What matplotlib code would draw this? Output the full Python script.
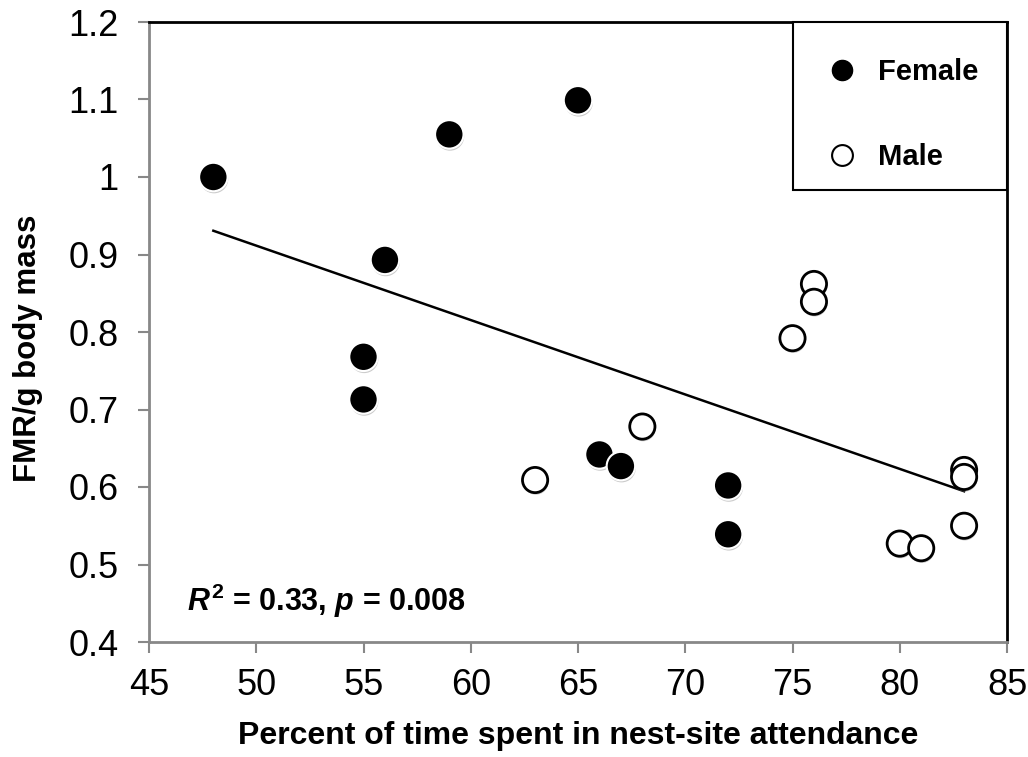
import numpy as np
import matplotlib
matplotlib.use("Agg")
import matplotlib.pyplot as plt
import matplotlib.patheffects as pe
from matplotlib.lines import Line2D
from matplotlib.patches import Rectangle

plt.rcParams['font.family'] = ['Liberation Sans', 'DejaVu Sans']
plt.rcParams['mathtext.fontset'] = 'custom'
plt.rcParams['mathtext.it'] = 'Liberation Sans:italic:bold'
plt.rcParams['mathtext.rm'] = 'Liberation Sans:bold'
plt.rcParams['mathtext.bf'] = 'Liberation Sans:bold'

female_x = [48, 55, 55, 56, 59, 65, 66, 67, 72, 72]
female_y = [1.0, 0.768, 0.713, 0.893, 1.055, 1.099, 0.642, 0.627, 0.602, 0.539]
male_x = [63, 68, 75, 76, 76, 80, 81, 83, 83, 83]
male_y = [0.609, 0.678, 0.792, 0.862, 0.839, 0.527, 0.521, 0.622, 0.613, 0.550]

x_ticks = [45, 50, 55, 60, 65, 70, 75, 80, 85]
y_ticks = [0.4, 0.5, 0.6, 0.7, 0.8, 0.9, 1.0, 1.1, 1.2]
y_tick_labels = ["0.4", "0.5", "0.6", "0.7", "0.8", "0.9", "1", "1.1", "1.2"]

fig = plt.figure(figsize=(10.28, 7.57), dpi=100)
ax = fig.add_axes([149/1028, 1 - 642/757, (1007-149)/1028, (642-22)/757])

all_x = np.array(female_x + male_x, dtype=float)
all_y = np.array(female_y + male_y, dtype=float)
slope, intercept = np.polyfit(all_x, all_y, 1)
xs = np.array([all_x.min(), all_x.max()])
ax.plot(xs, slope * xs + intercept, color='black', lw=1.8, zorder=2)

shadow = [pe.SimplePatchShadow(offset=(0.5, -1.5), shadow_rgbFace='#999999', alpha=0.5), pe.Normal()]
ax.scatter(female_x, female_y, s=420, c='black', edgecolors='white', linewidths=1.5, zorder=3,
           path_effects=shadow)
ax.scatter(male_x, male_y, s=330, c='white', edgecolors='black', linewidths=2.0, zorder=3,
           path_effects=shadow)

ax.set_xlim(45, 85)
ax.set_ylim(0.4, 1.2)
ax.set_xticks(x_ticks)
ax.set_xticklabels([str(t) for t in x_ticks])
ax.set_yticks(y_ticks)
ax.set_yticklabels(y_tick_labels)
ax.tick_params(axis='both', labelsize=26, color='#888888', width=1.5, length=8, direction='out')
ax.tick_params(axis='x', pad=11)
ax.tick_params(axis='y', pad=14)

for side in ['left', 'bottom']:
    ax.spines[side].set_color('#888888')
    ax.spines[side].set_linewidth(2)
for side in ['top', 'right']:
    ax.spines[side].set_color('black')
    ax.spines[side].set_linewidth(2)

ax.set_xlabel('Percent of time spent in nest-site attendance', fontsize=23, fontweight='bold')
ax.set_ylabel('FMR/g body mass', fontsize=22.5, fontweight='bold')
ax.xaxis.set_label_coords(0.5, -0.127)
ax.yaxis.set_label_coords(-0.1235, 0.473)

ax.text(0.044, 0.066, r'$\mathit{R}^{2}$ = 0.33, $\mathit{p}$ = 0.008',
        transform=ax.transAxes, fontsize=22, fontweight='bold', ha='left', va='center')

# legend box
ax.add_patch(Rectangle((0.7506, 0.729), 0.2494, 0.271, transform=ax.transAxes,
                       facecolor='white', edgecolor='black', linewidth=1.5, zorder=4, clip_on=False))
handles = [
    Line2D([], [], marker='o', linestyle='none', markersize=14.5, markerfacecolor='black', markeredgecolor='black'),
    Line2D([], [], marker='o', linestyle='none', markersize=15, markerfacecolor='white', markeredgecolor='black', markeredgewidth=1.5),
]
leg = ax.legend(handles, ['Female', 'Male'], loc='upper left', bbox_to_anchor=(0.782, 0.942),
                frameon=False, borderpad=0, labelspacing=1.97, handlelength=1.5,
                handletextpad=0.5, borderaxespad=0,
                prop={'size': 21, 'weight': 'bold'})
leg.set_zorder(5)

fig.savefig('out.png', dpi=100)
